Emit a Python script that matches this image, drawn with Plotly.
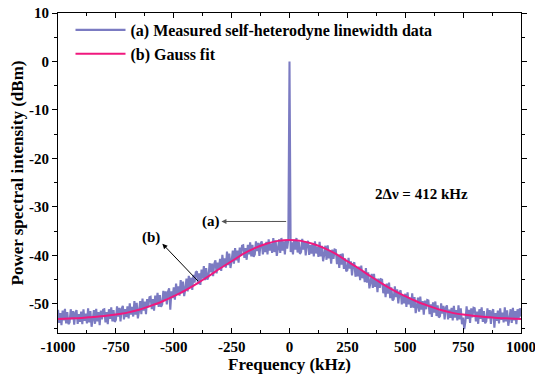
import numpy as np
import plotly.graph_objects as go

# Frequency grid (kHz) for measured trace: -1000..1000 step 5
freq_meas = np.arange(-1000, 1001, 5)

power_meas = [
    -51.2,-53.9,-51.9,-54.4,-51.4,-53.4,-51.0,-54.0,-51.7,-54.2,
    -53.8,-51.1,-53.2,-51.5,-54.3,-51.8,-51.3,-54.1,-52.1,-53.7,
    -51.6,-54.2,-51.1,-53.5,-52.0,-54.0,-50.9,-53.8,-51.5,-54.7,
    -53.3,-51.3,-54.1,-51.0,-53.6,-51.7,-54.4,-51.4,-53.2,-51.2,
    -51.1,-53.8,-51.7,-54.2,-51.1,-53.1,-50.7,-53.6,-51.3,-53.7,
    -53.3,-50.5,-52.6,-50.8,-53.6,-51.0,-50.4,-53.2,-51.1,-52.7,
    -50.5,-53.0,-49.9,-52.2,-50.6,-52.6,-49.4,-52.2,-49.8,-53.0,
    -51.5,-49.4,-52.1,-48.9,-51.4,-49.5,-52.1,-49.0,-50.7,-48.6,
    -48.5,-51.1,-49.0,-51.4,-48.3,-50.2,-47.7,-50.6,-48.2,-50.6,
    -50.1,-47.3,-49.2,-47.4,-50.1,-47.5,-46.8,-51.2,-47.4,-48.8,
    -46.6,-49.1,-45.8,-48.1,-46.4,-48.3,-45.1,-47.8,-45.4,-48.4,
    -46.9,-44.8,-47.4,-44.2,-46.6,-44.6,-47.1,-44.0,-45.6,-43.5,
    -43.3,-45.9,-43.7,-46.1,-42.9,-44.8,-42.2,-45.1,-42.6,-45.0,
    -44.4,-41.6,-43.5,-41.7,-44.3,-41.7,-41.0,-43.7,-41.5,-42.9,
    -40.7,-43.2,-39.9,-42.2,-40.6,-42.5,-39.2,-42.0,-39.6,-42.6,
    -41.1,-39.0,-41.7,-38.5,-41.0,-39.0,-41.5,-38.4,-40.1,-38.0,
    -37.9,-40.5,-38.5,-40.9,-37.8,-39.8,-37.3,-40.2,-37.8,-40.3,
    -39.8,-37.1,-39.1,-37.4,-40.1,-37.6,-37.1,-39.8,-37.8,-39.3,
    -37.2,-39.8,-36.7,-39.0,-37.5,-39.5,-36.4,-39.3,-36.9,-40.1,
    -38.7,-36.7,-39.5,-36.4,-39.0,-37.1,-39.8,-36.8,-38.6,-36.6,
    0.0,-39.3,-37.3,-39.8,-36.8,-38.8,-36.4,-39.4,-37.1,-39.7,
    -39.3,-36.6,-38.8,-37.1,-40.0,-37.5,-37.0,-39.9,-37.9,-39.6,
    -37.5,-40.2,-37.1,-39.6,-38.2,-40.3,-37.2,-40.2,-38.0,-41.2,
    -39.9,-38.0,-40.9,-37.9,-40.6,-38.9,-41.7,-38.8,-40.7,-38.8,
    -38.9,-41.8,-39.9,-42.6,-39.7,-41.9,-39.6,-42.8,-40.6,-43.3,
    -43.0,-40.5,-42.7,-41.2,-44.1,-41.8,-41.4,-44.4,-42.5,-44.3,
    -42.3,-45.1,-42.1,-44.7,-43.3,-45.5,-42.6,-45.6,-43.5,-46.8,
    -45.6,-43.8,-46.7,-43.8,-46.5,-44.8,-47.6,-44.8,-46.7,-44.9,
    -45.0,-47.8,-46.0,-48.6,-45.8,-47.9,-45.6,-48.8,-46.6,-49.3,
    -49.0,-46.4,-48.6,-47.0,-49.9,-47.6,-47.2,-50.1,-48.2,-49.9,
    -47.9,-50.6,-47.6,-50.1,-48.7,-50.8,-47.8,-50.8,-48.6,-51.9,
    -50.6,-48.7,-51.6,-48.5,-51.2,-49.4,-52.2,-49.3,-51.1,-49.2,
    -49.3,-52.1,-50.1,-52.7,-49.7,-51.8,-49.5,-52.5,-50.3,-52.8,
    -52.5,-49.9,-52.0,-50.4,-53.2,-50.8,-50.3,-53.2,-51.2,-52.9,
    -50.8,-53.4,-50.4,-52.8,-51.3,-53.4,-50.3,-53.2,-50.9,-54.2,
    -52.8,-55.2,-53.6,-50.5,-53.1,-51.2,-53.9,-50.9,-52.8,-50.8,
    -50.9,-53.6,-51.6,-54.1,-51.1,-53.1,-50.7,-53.7,-51.5,-54.0,
    -53.6,-50.9,-53.0,-51.3,-54.1,-51.6,-51.1,-54.9,-51.9,-53.5,
    -51.4,-54.0,-50.9,-53.3,-51.8,-53.8,-50.7,-53.6,-51.3,-54.5,
    -53.1,-51.1,-53.9,-50.8,-53.4,-51.5,-54.2,-51.1,-52.9,-50.9,
    -52.6,
]

# Gauss fit, every 50 kHz
freq_fit = list(range(-1000, 1001, 50))
power_fit = [
    -53.1, -53.0, -52.9, -52.7, -52.5, -52.2, -51.8, -51.2, -50.4, -49.5,
    -48.4, -47.2, -45.8, -44.3, -42.7, -41.2, -39.7, -38.5, -37.6, -37.0,
    -36.8,
    -37.0, -37.6, -38.5, -39.7, -41.2, -42.7, -44.3, -45.8, -47.2, -48.4,
    -49.5, -50.4, -51.2, -51.8, -52.2, -52.5, -52.7, -52.9, -53.0, -53.1,
]

x_ticks = [-1000, -750, -500, -250, 0, 250, 500, 750, 1000]
x_tick_labels = ["-1000", "-750", "-500", "-250", "0", "250", "500", "750", "1000"]
y_ticks = [-50, -40, -30, -20, -10, 0, 10]
y_tick_labels = ["-50", "-40", "-30", "-20", "-10", "0", "10"]

FONT = "Liberation Serif"

fig = go.Figure()
fig.add_trace(go.Scatter(
    x=freq_meas, y=power_meas, mode="lines",
    name="<b>(a) Measured self-heterodyne linewidth data</b>",
    line=dict(color="#7B7BC2", width=2.1),
))
fig.add_trace(go.Scatter(
    x=freq_fit, y=power_fit, mode="lines",
    name="<b>(b) Gauss fit</b>",
    line=dict(color="#F0187E", width=2, shape="spline"),
))

axis_common = dict(
    showline=True, linecolor="black", linewidth=1.2, mirror="ticks",
    showgrid=False, zeroline=False, ticklen=5, tickcolor="black",
    tickfont=dict(family=FONT, size=15, color="black"),
    automargin=False, ticklabeloverflow="allow",
)

fig.update_xaxes(
    range=[-1000, 1000], tickvals=x_ticks,
    ticktext=["<b>%s</b>" % t for t in x_tick_labels], ticks="inside",
    minor=dict(dtick=125, ticks="inside", ticklen=3, tickcolor="black"),
    title=dict(text="<b>Frequency (kHz)</b>", font=dict(family=FONT, size=17, color="black"), standoff=2),
    **axis_common,
)
fig.update_yaxes(
    range=[-56, 10], tickvals=y_ticks,
    ticktext=["<b>%s</b>" % t for t in y_tick_labels], ticks="outside",
    minor=dict(dtick=5, ticks="outside", ticklen=3, tickcolor="black"),
    title=dict(text="<b>Power spectral intensity (dBm)</b>", font=dict(family=FONT, size=17, color="black"), standoff=0),
    **axis_common,
)

ann_font = dict(family=FONT, size=15, color="black")
fig.add_annotation(x=-294, y=-33.0, ax=-8, ay=-33.0, axref="x", ayref="y",
                   xref="x", yref="y", text="", showarrow=True,
                   arrowhead=2, arrowsize=1, arrowwidth=1, arrowcolor="#555555")
fig.add_annotation(x=-549, y=-37.6, ax=-389, ay=-45.6, axref="x", ayref="y",
                   xref="x", yref="y", text="", showarrow=True,
                   arrowhead=2, arrowsize=1, arrowwidth=1, arrowcolor="black")
fig.add_annotation(x=-341, y=-33.0, text="<b>(a)</b>", showarrow=False, font=ann_font)
fig.add_annotation(x=-600, y=-36.3, text="<b>(b)</b>", showarrow=False, font=ann_font)
fig.add_annotation(x=570, y=-27.3, text="<b>2Δν = 412 kHz</b>", showarrow=False, font=ann_font)

fig.update_layout(
    width=535, height=375,
    margin=dict(l=58, r=14, t=13, b=42),
    paper_bgcolor="white", plot_bgcolor="white",
    font=dict(family=FONT, color="black"),
    legend=dict(x=0.027, y=1.0, xanchor="left", yanchor="top",
                bgcolor="rgba(0,0,0,0)", itemwidth=50,
                font=dict(family=FONT, size=16, color="black"),
                tracegroupgap=0),
    showlegend=True,
)

fig.write_html("out.html", config={"displayModeBar": False},
               post_script="document.body.style.margin='0';")
